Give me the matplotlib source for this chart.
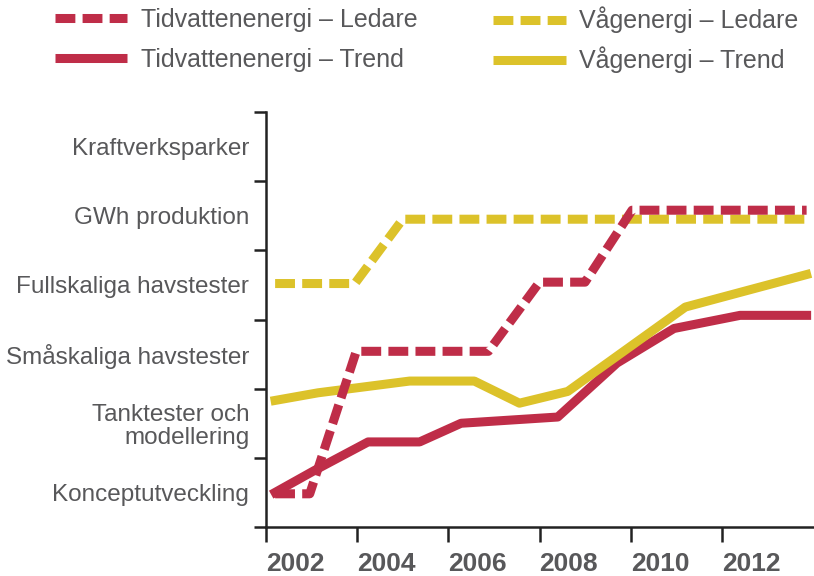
import matplotlib
matplotlib.use("Agg")
import matplotlib.pyplot as plt
from matplotlib.lines import Line2D

plt.rcParams['font.family'] = ['Liberation Sans', 'DejaVu Sans']

# stage labels (one per band between ticks)
stages = ["Konceptutveckling", "Tanktester och\nmodellering", "Småskaliga havstester",
          "Fullskaliga havstester", "GWh produktion", "Kraftverksparker"]
year_ticks = [2002, 2004, 2006, 2008, 2010, 2012]

tid_led_x = [2002.2, 2002.96, 2003.98, 2006.88, 2008.0, 2009.0, 2010.03, 2013.86]
tid_led_y = [0.48, 0.48, 2.54, 2.54, 3.54, 3.54, 4.58, 4.58]

tid_trend_x = [2002.2, 2003.07, 2004.24, 2005.37, 2006.28, 2008.4, 2009.7, 2010.95, 2012.4, 2013.86]
tid_trend_y = [0.50, 0.82, 1.23, 1.23, 1.50, 1.59, 2.37, 2.87, 3.06, 3.06]

vag_led_x = [2002.2, 2003.95, 2005.0, 2013.86]
vag_led_y = [3.52, 3.52, 4.45, 4.45]

vag_trend_x = [2002.2, 2003.14, 2005.15, 2006.57, 2007.56, 2008.62, 2011.2, 2013.86]
vag_trend_y = [1.83, 1.94, 2.11, 2.11, 1.79, 1.96, 3.18, 3.65]

red = "#bf2d48"
yellow = "#dcc22a"
txt = "#58585a"
lw = 6.5
dash = (2.2, 0.8)

fig = plt.figure(figsize=(8.14, 5.76), dpi=100)
ax = fig.add_axes([266/814, 1-527/576, (813-266)/814, (527-112)/576])

l1, = ax.plot(tid_led_x, tid_led_y, color=red, lw=lw, linestyle=(0, dash),
              dash_capstyle='butt', label="Tidvattenenergi – Ledare", zorder=2.3)
l2, = ax.plot(tid_trend_x, tid_trend_y, color=red, lw=lw,
              label="Tidvattenenergi – Trend", zorder=2.0)
l3, = ax.plot(vag_led_x, vag_led_y, color=yellow, lw=lw, linestyle=(0, dash),
              dash_capstyle='butt', label="Vågenergi – Ledare", zorder=2.2)
l4, = ax.plot(vag_trend_x, vag_trend_y, color=yellow, lw=lw,
              label="Vågenergi – Trend", zorder=2.1)

ax.set_xlim(2002, 2014)
ax.set_ylim(0, 6)
for s in ['top', 'right']:
    ax.spines[s].set_visible(False)
for s in ['left', 'bottom']:
    ax.spines[s].set_linewidth(1.8)
    ax.spines[s].set_color("#222222")

ax.set_xticks(year_ticks)
ax.set_xticklabels([str(y) for y in year_ticks], fontsize=19, fontweight='bold',
                   color=txt, ha='left')
ax.tick_params(axis='x', length=11, width=1.8, color="#222222", pad=7)

ax.set_yticks(range(7))
ax.set_yticklabels([])
ax.tick_params(axis='y', which='major', length=9, width=1.8, color="#222222")
ax.set_yticks([i + 0.5 for i in range(6)], minor=True)
ax.set_yticklabels(stages, minor=True, fontsize=17.5, color=txt, ha='right',
                   linespacing=1.05)
ax.tick_params(axis='y', which='minor', length=0, pad=12)

# legend entries placed one by one so the rows line up
legend_pos = [(55, 20), (55, 60), (493, 20), (493, 60)]
for line, (px, py) in zip([l1, l2, l3, l4], legend_pos):
    ls = (0, dash) if line in (l1, l3) else '-'
    h = Line2D([], [], color=line.get_color(), lw=lw, linestyle=ls,
               dash_capstyle='butt', solid_capstyle='butt')
    fig.legend(handles=[h], labels=[line.get_label()], loc='center left',
               bbox_to_anchor=(px/814, 1-py/576), frameon=False, fontsize=18,
               handlelength=2.9, handletextpad=0.55, labelcolor=txt,
               borderpad=0, borderaxespad=0)

fig.savefig("out.png", dpi=100)
